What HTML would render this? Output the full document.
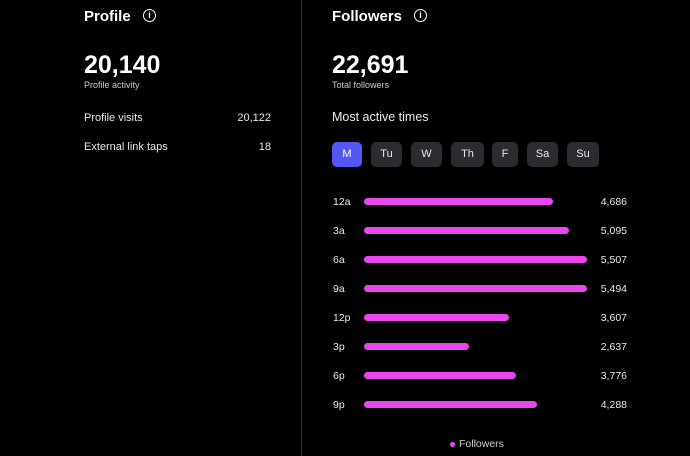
<!DOCTYPE html>
<html><head><style>
body{margin:0;width:690px;height:456px;background:#000;color:#fff;font-family:"Liberation Sans",sans-serif;position:relative;overflow:hidden}
div,span{position:absolute;white-space:nowrap}
.h{font-weight:bold;font-size:15px}
.big{font-weight:bold;font-size:25px}
.sm{font-size:9px;color:#ccc}
.t{font-size:11px;color:#e8e8e8}
.btn{top:142px;height:25px;border-radius:5px;background:#2b2c30;font-size:11px;text-align:center;line-height:25px;color:#e8e8e8}
.bar{left:364px;height:7px;border-radius:3.5px;background:#ea46ee}
.lab{left:333px;font-size:10.5px;color:#e8e8e8}
.val{right:63px;font-size:10.5px;color:#e8e8e8}
.info{width:11px;height:11px;border:1.3px solid #fff;border-radius:50%;font-size:9px;text-align:center;line-height:11px;font-weight:bold}
</style></head><body>
<div class="h" style="left:84px;top:8px">Profile</div>
<div class="info" style="left:143px;top:9px">i</div>
<div class="big" style="left:84px;top:51px">20,140</div>
<div class="sm" style="left:84px;top:80px">Profile activity</div>
<div class="t" style="left:84px;top:112px">Profile visits</div>
<div class="t" style="right:419px;top:112px">20,122</div>
<div class="t" style="left:84px;top:141px">External link taps</div>
<div class="t" style="right:419px;top:141px">18</div>
<div style="left:301px;top:0;width:1px;height:456px;background:#333"></div>
<div class="h" style="left:332px;top:8px">Followers</div>
<div class="info" style="left:414px;top:9px">i</div>
<div class="big" style="left:332px;top:51px">22,691</div>
<div class="sm" style="left:332px;top:80px">Total followers</div>
<div style="left:332px;top:110px;font-size:12.5px;color:#eee">Most active times</div>
<div class="btn" style="left:332px;width:30px;background:#5558f0;color:#fff">M</div>
<div class="btn" style="left:371px;width:31px">Tu</div>
<div class="btn" style="left:411px;width:31px">W</div>
<div class="btn" style="left:451px;width:33px">Th</div>
<div class="btn" style="left:492px;width:26px">F</div>
<div class="btn" style="left:527px;width:31px">Sa</div>
<div class="btn" style="left:567px;width:32px">Su</div>

<div class="lab" style="top:196px">12a</div><div class="bar" style="top:198px;width:189px"></div><div class="val" style="top:196px">4,686</div>
<div class="lab" style="top:225px">3a</div><div class="bar" style="top:227px;width:205px"></div><div class="val" style="top:225px">5,095</div>
<div class="lab" style="top:254px">6a</div><div class="bar" style="top:256px;width:223px"></div><div class="val" style="top:254px">5,507</div>
<div class="lab" style="top:283px">9a</div><div class="bar" style="top:285px;width:223px"></div><div class="val" style="top:283px">5,494</div>
<div class="lab" style="top:312px">12p</div><div class="bar" style="top:314px;width:145px"></div><div class="val" style="top:312px">3,607</div>
<div class="lab" style="top:341px">3p</div><div class="bar" style="top:343px;width:105px"></div><div class="val" style="top:341px">2,637</div>
<div class="lab" style="top:370px">6p</div><div class="bar" style="top:372px;width:152px"></div><div class="val" style="top:370px">3,776</div>
<div class="lab" style="top:399px">9p</div><div class="bar" style="top:401px;width:173px"></div><div class="val" style="top:399px">4,288</div>

<div style="left:450px;top:442px;width:5px;height:5px;border-radius:50%;background:#ea46ee"></div>
<div style="left:459px;top:438px;font-size:10.5px;color:#ccc">Followers</div>
</body></html>
